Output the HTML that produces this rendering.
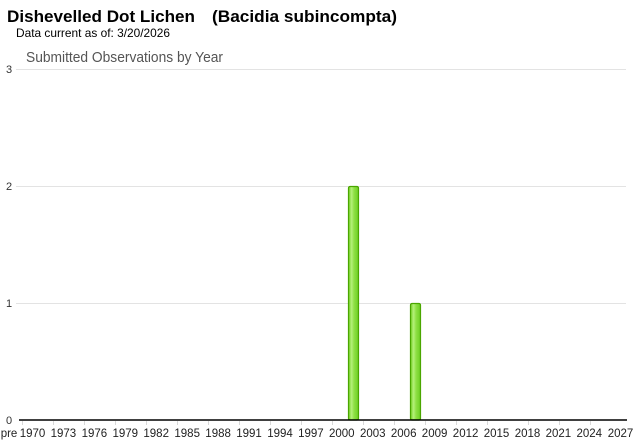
<!DOCTYPE html>
<html><head><meta charset="utf-8"><style>
html,body{margin:0;padding:0;background:#fff;}
svg{display:block;}
text{font-family:"Liberation Sans",Arial,sans-serif;}
</style></head><body>
<svg width="640" height="442" viewBox="0 0 640 442" xmlns="http://www.w3.org/2000/svg">
<defs>
<linearGradient id="g" x1="0" x2="1" y1="0" y2="0">
<stop offset="0" stop-color="#6fd020"/>
<stop offset="0.3" stop-color="#b5f07a"/>
<stop offset="0.55" stop-color="#8fe045"/>
<stop offset="1" stop-color="#6ccd22"/>
</linearGradient>
</defs>
<text x="7" y="22" font-size="17" font-weight="bold" fill="#000" textLength="188" lengthAdjust="spacingAndGlyphs">Dishevelled Dot Lichen</text>
<text x="212" y="22" font-size="17" font-weight="bold" fill="#000" textLength="185" lengthAdjust="spacingAndGlyphs">(Bacidia subincompta)</text>
<text x="16" y="37" font-size="12" fill="#000" textLength="154" lengthAdjust="spacingAndGlyphs">Data current as of: 3/20/2026</text>
<text x="26" y="62" font-size="14.5" fill="#555" textLength="197" lengthAdjust="spacingAndGlyphs">Submitted Observations by Year</text>
<g stroke="#e3e3e3" stroke-width="1">
<line x1="16" y1="69.5" x2="626" y2="69.5"/>
<line x1="16" y1="186.5" x2="626" y2="186.5"/>
<line x1="16" y1="303.5" x2="626" y2="303.5"/>
</g>
<g font-size="11" fill="#333" text-anchor="middle">
<text x="9" y="73">3</text>
<text x="9" y="190">2</text>
<text x="9" y="307">1</text>
<text x="9" y="424">0</text>
</g>
<rect x="348.5" y="186.5" width="10" height="233.5" rx="1.5" fill="url(#g)" stroke="#4aa600" stroke-width="1.2"/>
<rect x="410.5" y="303.5" width="10" height="116.5" rx="1.5" fill="url(#g)" stroke="#4aa600" stroke-width="1.2"/>
<line x1="19" y1="420" x2="627" y2="420" stroke="#000" stroke-width="1.5"/>
<g stroke="#d8d8d8" stroke-width="1">
<line x1="22.5" y1="421" x2="22.5" y2="425"/>
<line x1="53.5" y1="421" x2="53.5" y2="425"/>
<line x1="84.5" y1="421" x2="84.5" y2="425"/>
<line x1="115.5" y1="421" x2="115.5" y2="425"/>
<line x1="146.5" y1="421" x2="146.5" y2="425"/>
<line x1="177.5" y1="421" x2="177.5" y2="425"/>
<line x1="208.5" y1="421" x2="208.5" y2="425"/>
<line x1="239.5" y1="421" x2="239.5" y2="425"/>
<line x1="270.5" y1="421" x2="270.5" y2="425"/>
<line x1="301.5" y1="421" x2="301.5" y2="425"/>
<line x1="332.5" y1="421" x2="332.5" y2="425"/>
<line x1="363.5" y1="421" x2="363.5" y2="425"/>
<line x1="394.5" y1="421" x2="394.5" y2="425"/>
<line x1="425.5" y1="421" x2="425.5" y2="425"/>
<line x1="456.5" y1="421" x2="456.5" y2="425"/>
<line x1="487.5" y1="421" x2="487.5" y2="425"/>
<line x1="528.5" y1="421" x2="528.5" y2="425"/>
<line x1="559.5" y1="421" x2="559.5" y2="425"/>
<line x1="590.5" y1="421" x2="590.5" y2="425"/>
</g>
<g font-size="11.5" fill="#222" text-anchor="middle">
<text x="9" y="437">pre</text>
<text x="32.5" y="437">1970</text>
<text x="63.4" y="437">1973</text>
<text x="94.4" y="437">1976</text>
<text x="125.3" y="437">1979</text>
<text x="156.2" y="437">1982</text>
<text x="187.2" y="437">1985</text>
<text x="218.1" y="437">1988</text>
<text x="249" y="437">1991</text>
<text x="280" y="437">1994</text>
<text x="310.9" y="437">1997</text>
<text x="341.8" y="437">2000</text>
<text x="372.8" y="437">2003</text>
<text x="403.7" y="437">2006</text>
<text x="434.6" y="437">2009</text>
<text x="465.6" y="437">2012</text>
<text x="496.5" y="437">2015</text>
<text x="527.5" y="437">2018</text>
<text x="558.4" y="437">2021</text>
<text x="589.3" y="437">2024</text>
<text x="620.5" y="437">2027</text>
</g>
</svg>
</body></html>
